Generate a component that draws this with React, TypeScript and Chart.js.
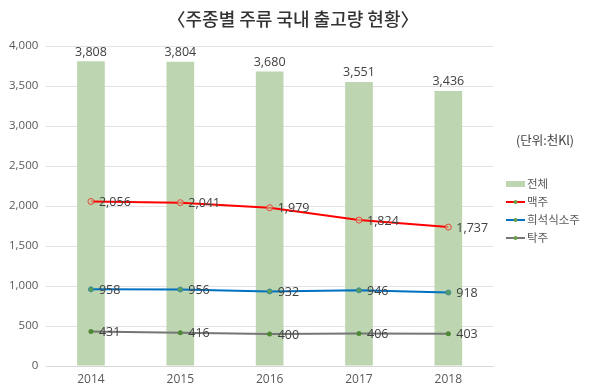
import React, { useEffect, useRef } from "react";
import { Chart, registerables } from "chart.js";

Chart.register(...registerables);

const years = ["2014", "2015", "2016", "2017", "2018"];
const totalValues = [3808, 3804, 3680, 3551, 3436];
const beerValues = [2056, 2041, 1979, 1824, 1737];
const sojuValues = [958, 956, 932, 946, 918];
const makgeolliValues = [431, 416, 400, 406, 403];
const seriesNames = ["전체", "맥주", "희석식소주", "탁주"];
const yTicks = [0, 500, 1000, 1500, 2000, 2500, 3000, 3500, 4000];
const titleText = "〈주종별 주류 국내 출고량 현황〉";
const unitText = "(단위:천Kl)";

const FONT = "'Open Sans', 'Noto Sans CJK KR', sans-serif";
const KFONT = "'Noto Sans CJK KR', 'Open Sans', sans-serif";

const fmt = (v: number) => v.toLocaleString("en-US");

const labelPlugin = {
  id: "customLabels",
  afterDatasetsDraw(chart: any) {
    const ctx = chart.ctx;
    ctx.save();
    ctx.fillStyle = "#404040";
    ctx.font = `12.5px ${FONT}`;
    chart.data.datasets.forEach((ds: any, i: number) => {
      const meta = chart.getDatasetMeta(i);
      meta.data.forEach((el: any, j: number) => {
        const v = ds.data[j];
        if (ds.type === "bar") {
          ctx.textAlign = "center";
          ctx.textBaseline = "bottom";
          ctx.fillText(fmt(v), el.x, el.y - 3);
        } else {
          ctx.textAlign = "left";
          ctx.textBaseline = "middle";
          ctx.fillText(fmt(v), el.x + 8, el.y + 1);
        }
      });
    });
    ctx.restore();
  },
  afterDraw(chart: any) {
    const ctx = chart.ctx;
    ctx.save();
    ctx.fillStyle = "#333333";
    ctx.font = `500 18px ${KFONT}`;
    ctx.textAlign = "center";
    ctx.textBaseline = "middle";
    ctx.fillText(titleText, 293, 19);
    ctx.fillStyle = "#404040";
    ctx.font = `12.5px ${KFONT}`;
    ctx.fillText(unitText, 545, 140);
    const items = chart.data.datasets;
    const ys = [184, 202, 220, 238];
    ctx.font = `11.5px ${KFONT}`;
    items.forEach((ds: any, i: number) => {
      const y = ys[i];
      if (ds.type === "bar") {
        ctx.fillStyle = ds.backgroundColor;
        ctx.fillRect(506, y - 3, 19, 6);
      } else {
        ctx.strokeStyle = ds.borderColor;
        ctx.lineWidth = 2;
        ctx.beginPath();
        ctx.moveTo(506, y);
        ctx.lineTo(525, y);
        ctx.stroke();
        ctx.beginPath();
        ctx.arc(515.5, y, 2, 0, Math.PI * 2);
        ctx.fillStyle = "#6a9e46";
        ctx.fill();
      }
      ctx.fillStyle = "#595959";
      ctx.textAlign = "left";
      ctx.textBaseline = "middle";
      ctx.fillText(seriesNames[i], 527, y);
    });
    ctx.restore();
  },
};

export default function App() {
  const ref = useRef<HTMLCanvasElement>(null);
  useEffect(() => {
    const chart = new Chart(ref.current!, {
      type: "bar",
      data: {
        labels: years,
        datasets: [
          {
            type: "bar",
            label: seriesNames[0],
            data: totalValues,
            backgroundColor: "#bdd6b1",
            barPercentage: 0.31,
            categoryPercentage: 1,
            order: 2,
          },
          {
            type: "line",
            label: seriesNames[1],
            data: beerValues,
            borderColor: "#ff0000",
            backgroundColor: "rgba(0,0,0,0)",
            borderWidth: 2,
            pointRadius: 3,
            pointBorderColor: "#e8453c",
            pointBackgroundColor: "rgba(190,210,160,0.6)",
            pointBorderWidth: 1,
            tension: 0,
            order: 1,
          },
          {
            type: "line",
            label: seriesNames[2],
            data: sojuValues,
            borderColor: "#0070c0",
            backgroundColor: "#5a9e46",
            borderWidth: 2,
            pointRadius: 2.5,
            pointBorderColor: "#3e8a9a",
            pointBackgroundColor: "#5aa050",
            pointBorderWidth: 1,
            tension: 0,
            order: 1,
          },
          {
            type: "line",
            label: seriesNames[3],
            data: makgeolliValues,
            borderColor: "#767676",
            backgroundColor: "#4e8a34",
            borderWidth: 2,
            pointRadius: 2.5,
            pointBorderColor: "#4e8a34",
            pointBackgroundColor: "#4e8a34",
            pointBorderWidth: 0,
            tension: 0,
            order: 1,
          },
        ] as any,
      },
      options: {
        animation: false,
        responsive: false,
        maintainAspectRatio: false,
        layout: { padding: { left: 1, right: 107, top: 46, bottom: 0 } },
        plugins: {
          legend: { display: false },
          title: { display: false },
          tooltip: { enabled: false },
        },
        scales: {
          x: {
            afterFit: (axis: any) => {
              axis.height = 25;
            },
            grid: { display: false, drawTicks: false },
            border: { display: true, color: "#d9d9d9", width: 1 },
            ticks: { color: "#595959", font: { size: 12, family: FONT }, padding: 6 },
          },
          y: {
            min: 0,
            max: 4000,
            afterBuildTicks: (axis: any) => {
              axis.ticks = yTicks.map((v) => ({ value: v }));
            },
            grid: { color: "#e3e3e3", drawTicks: false },
            border: { display: false },
            ticks: {
              color: "#595959",
              font: { size: 11.5, family: FONT },
              padding: 8,
              callback: (v: any) => fmt(Number(v)),
            },
          },
        },
      },
      plugins: [labelPlugin],
    });
    return () => chart.destroy();
  }, []);
  return (
    <div style={{ position: "fixed", left: 0, top: 0, width: 600, height: 391, background: "#fff" }}>
      <canvas ref={ref} width={600} height={391} style={{ width: 600, height: 391 }} />
    </div>
  );
}
